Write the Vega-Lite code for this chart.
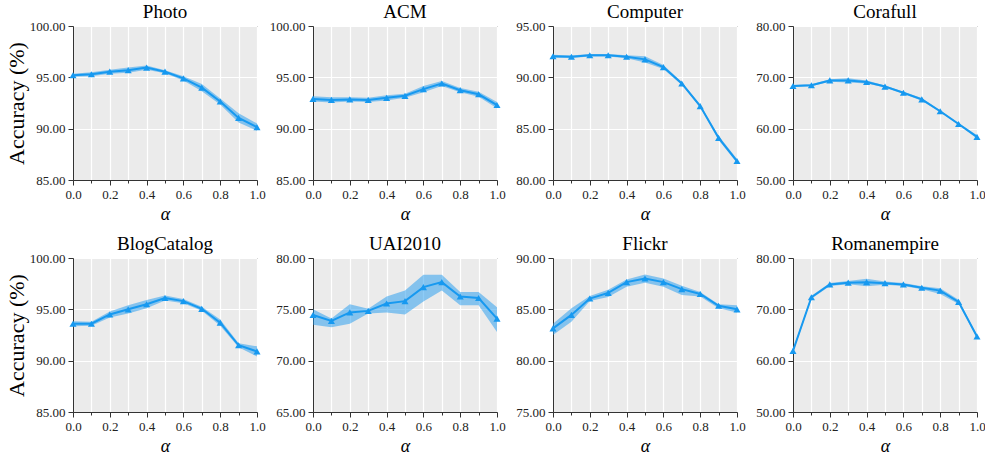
{
  "$schema": "https://vega.github.io/schema/vega-lite/v6.json",
  "background": "white",
  "padding": {"left": 4, "top": 2, "right": 5, "bottom": 0},
  "columns": 4,
  "spacing": {"row": 78, "column": 56},
  "bounds": "flush",
  "datasets": {
    "acc": [
      {"ds":"Photo","a":0.0,"m":95.2,"lo":95.05,"hi":95.35},
      {"ds":"Photo","a":0.1,"m":95.3,"lo":95.1,"hi":95.5},
      {"ds":"Photo","a":0.2,"m":95.55,"lo":95.35,"hi":95.75},
      {"ds":"Photo","a":0.3,"m":95.7,"lo":95.45,"hi":95.95},
      {"ds":"Photo","a":0.4,"m":95.95,"lo":95.75,"hi":96.15},
      {"ds":"Photo","a":0.5,"m":95.55,"lo":95.4,"hi":95.7},
      {"ds":"Photo","a":0.6,"m":94.9,"lo":94.7,"hi":95.1},
      {"ds":"Photo","a":0.7,"m":94.0,"lo":93.65,"hi":94.35},
      {"ds":"Photo","a":0.8,"m":92.65,"lo":92.35,"hi":92.95},
      {"ds":"Photo","a":0.9,"m":91.05,"lo":90.6,"hi":91.5},
      {"ds":"Photo","a":1.0,"m":90.15,"lo":89.8,"hi":90.5},
      {"ds":"ACM","a":0.0,"m":92.9,"lo":92.65,"hi":93.15},
      {"ds":"ACM","a":0.1,"m":92.8,"lo":92.55,"hi":93.05},
      {"ds":"ACM","a":0.2,"m":92.85,"lo":92.65,"hi":93.05},
      {"ds":"ACM","a":0.3,"m":92.8,"lo":92.6,"hi":93.0},
      {"ds":"ACM","a":0.4,"m":93.0,"lo":92.75,"hi":93.25},
      {"ds":"ACM","a":0.5,"m":93.2,"lo":93.0,"hi":93.4},
      {"ds":"ACM","a":0.6,"m":93.85,"lo":93.55,"hi":94.15},
      {"ds":"ACM","a":0.7,"m":94.4,"lo":94.15,"hi":94.65},
      {"ds":"ACM","a":0.8,"m":93.75,"lo":93.55,"hi":93.95},
      {"ds":"ACM","a":0.9,"m":93.35,"lo":93.1,"hi":93.6},
      {"ds":"ACM","a":1.0,"m":92.3,"lo":92.0,"hi":92.6},
      {"ds":"Computer","a":0.0,"m":92.05,"lo":91.9,"hi":92.2},
      {"ds":"Computer","a":0.1,"m":92.0,"lo":91.88,"hi":92.12},
      {"ds":"Computer","a":0.2,"m":92.15,"lo":92.03,"hi":92.27},
      {"ds":"Computer","a":0.3,"m":92.15,"lo":92.03,"hi":92.27},
      {"ds":"Computer","a":0.4,"m":92.0,"lo":91.85,"hi":92.15},
      {"ds":"Computer","a":0.5,"m":91.75,"lo":91.45,"hi":92.05},
      {"ds":"Computer","a":0.6,"m":91.0,"lo":90.8,"hi":91.2},
      {"ds":"Computer","a":0.7,"m":89.4,"lo":89.25,"hi":89.55},
      {"ds":"Computer","a":0.8,"m":87.2,"lo":87.05,"hi":87.35},
      {"ds":"Computer","a":0.9,"m":84.1,"lo":83.9,"hi":84.3},
      {"ds":"Computer","a":1.0,"m":81.85,"lo":81.65,"hi":82.05},
      {"ds":"Corafull","a":0.0,"m":68.3,"lo":68.1,"hi":68.5},
      {"ds":"Corafull","a":0.1,"m":68.45,"lo":68.25,"hi":68.65},
      {"ds":"Corafull","a":0.2,"m":69.4,"lo":69.15,"hi":69.65},
      {"ds":"Corafull","a":0.3,"m":69.4,"lo":69.0,"hi":69.8},
      {"ds":"Corafull","a":0.4,"m":69.1,"lo":68.8,"hi":69.4},
      {"ds":"Corafull","a":0.5,"m":68.2,"lo":68.0,"hi":68.4},
      {"ds":"Corafull","a":0.6,"m":67.0,"lo":66.8,"hi":67.2},
      {"ds":"Corafull","a":0.7,"m":65.7,"lo":65.45,"hi":65.95},
      {"ds":"Corafull","a":0.8,"m":63.4,"lo":63.2,"hi":63.6},
      {"ds":"Corafull","a":0.9,"m":60.9,"lo":60.7,"hi":61.1},
      {"ds":"Corafull","a":1.0,"m":58.4,"lo":58.1,"hi":58.7},
      {"ds":"BlogCatalog","a":0.0,"m":93.6,"lo":93.35,"hi":93.85},
      {"ds":"BlogCatalog","a":0.1,"m":93.6,"lo":93.4,"hi":93.8},
      {"ds":"BlogCatalog","a":0.2,"m":94.5,"lo":94.2,"hi":94.8},
      {"ds":"BlogCatalog","a":0.3,"m":95.0,"lo":94.6,"hi":95.4},
      {"ds":"BlogCatalog","a":0.4,"m":95.5,"lo":95.1,"hi":95.9},
      {"ds":"BlogCatalog","a":0.5,"m":96.1,"lo":95.85,"hi":96.35},
      {"ds":"BlogCatalog","a":0.6,"m":95.8,"lo":95.6,"hi":96.0},
      {"ds":"BlogCatalog","a":0.7,"m":95.05,"lo":94.85,"hi":95.25},
      {"ds":"BlogCatalog","a":0.8,"m":93.7,"lo":93.4,"hi":94.0},
      {"ds":"BlogCatalog","a":0.9,"m":91.5,"lo":91.3,"hi":91.7},
      {"ds":"BlogCatalog","a":1.0,"m":90.9,"lo":90.4,"hi":91.4},
      {"ds":"UAI2010","a":0.0,"m":74.45,"lo":73.5,"hi":75.0},
      {"ds":"UAI2010","a":0.1,"m":73.87,"lo":73.25,"hi":74.1},
      {"ds":"UAI2010","a":0.2,"m":74.7,"lo":73.6,"hi":75.5},
      {"ds":"UAI2010","a":0.3,"m":74.85,"lo":74.6,"hi":75.05},
      {"ds":"UAI2010","a":0.4,"m":75.57,"lo":74.7,"hi":76.25},
      {"ds":"UAI2010","a":0.5,"m":75.8,"lo":74.5,"hi":76.84},
      {"ds":"UAI2010","a":0.6,"m":77.16,"lo":75.76,"hi":78.37},
      {"ds":"UAI2010","a":0.7,"m":77.65,"lo":76.84,"hi":78.37},
      {"ds":"UAI2010","a":0.8,"m":76.25,"lo":75.4,"hi":76.7},
      {"ds":"UAI2010","a":0.9,"m":76.1,"lo":75.4,"hi":76.7},
      {"ds":"UAI2010","a":1.0,"m":74.1,"lo":72.8,"hi":75.2},
      {"ds":"Flickr","a":0.0,"m":83.15,"lo":82.5,"hi":83.6},
      {"ds":"Flickr","a":0.1,"m":84.46,"lo":83.8,"hi":85.1},
      {"ds":"Flickr","a":0.2,"m":86.05,"lo":85.8,"hi":86.3},
      {"ds":"Flickr","a":0.3,"m":86.6,"lo":86.2,"hi":86.9},
      {"ds":"Flickr","a":0.4,"m":87.65,"lo":87.2,"hi":87.9},
      {"ds":"Flickr","a":0.5,"m":88.0,"lo":87.6,"hi":88.4},
      {"ds":"Flickr","a":0.6,"m":87.65,"lo":87.2,"hi":88.0},
      {"ds":"Flickr","a":0.7,"m":86.97,"lo":86.4,"hi":87.3},
      {"ds":"Flickr","a":0.8,"m":86.5,"lo":86.25,"hi":86.7},
      {"ds":"Flickr","a":0.9,"m":85.35,"lo":85.1,"hi":85.5},
      {"ds":"Flickr","a":1.0,"m":85.0,"lo":84.7,"hi":85.4},
      {"ds":"Romanempire","a":0.0,"m":61.9,"lo":61.6,"hi":62.2},
      {"ds":"Romanempire","a":0.1,"m":72.35,"lo":72.05,"hi":72.65},
      {"ds":"Romanempire","a":0.2,"m":74.85,"lo":74.55,"hi":75.15},
      {"ds":"Romanempire","a":0.3,"m":75.2,"lo":74.9,"hi":75.5},
      {"ds":"Romanempire","a":0.4,"m":75.3,"lo":74.5,"hi":75.96},
      {"ds":"Romanempire","a":0.5,"m":75.1,"lo":74.8,"hi":75.4},
      {"ds":"Romanempire","a":0.6,"m":74.85,"lo":74.55,"hi":75.15},
      {"ds":"Romanempire","a":0.7,"m":74.2,"lo":73.9,"hi":74.5},
      {"ds":"Romanempire","a":0.8,"m":73.65,"lo":73.0,"hi":74.1},
      {"ds":"Romanempire","a":0.9,"m":71.45,"lo":71.05,"hi":71.85},
      {"ds":"Romanempire","a":1.0,"m":64.7,"lo":64.4,"hi":65.0}
    ]
  },
  "data": {"name": "acc"},
  "concat": [
    {
      "title": "Photo", "width": 184, "height": 154,
      "transform": [{"filter": "datum.ds === 'Photo'"}],
      "encoding": {"x": {"field": "a", "type": "quantitative", "scale": {"domain": [0, 1], "nice": false}, "axis": {"title": "α", "values": [0,0.1,0.2,0.3,0.4,0.5,0.6,0.7,0.8,0.9,1], "labelExpr": "round(datum.value*10) % 2 === 0 ? format(datum.value, '.1f') : ''", "tickSize": {"condition": {"test": "round(datum.value*10) % 2 === 0", "value": 5}, "value": 3}}}},
      "layer": [
        {"mark": {"type": "area", "color": "#1e9af0", "opacity": 0.5}, "encoding": {"y": {"field": "lo", "type": "quantitative", "title": "Accuracy (%)", "scale": {"domain": [85, 100], "nice": false, "zero": false}, "axis": {"values": [85,87.5,90,92.5,95,97.5,100], "labelExpr": "datum.value % 5 === 0 ? format(datum.value, '.2f') : ''", "tickSize": {"condition": {"test": "datum.value % 5 === 0", "value": 5}, "value": 3}}}, "y2": {"field": "hi"}}},
        {"mark": {"type": "line", "color": "#1799f0", "strokeWidth": 2}, "encoding": {"y": {"field": "m", "type": "quantitative", "title": "Accuracy (%)"}}},
        {"mark": {"type": "point", "shape": "triangle-up", "filled": true, "size": 50, "color": "#1799f0", "opacity": 1}, "encoding": {"y": {"field": "m", "type": "quantitative", "title": "Accuracy (%)"}}}
      ]
    },
    {
      "title": "ACM", "width": 184, "height": 154,
      "transform": [{"filter": "datum.ds === 'ACM'"}],
      "encoding": {"x": {"field": "a", "type": "quantitative", "scale": {"domain": [0, 1], "nice": false}, "axis": {"title": "α", "values": [0,0.1,0.2,0.3,0.4,0.5,0.6,0.7,0.8,0.9,1], "labelExpr": "round(datum.value*10) % 2 === 0 ? format(datum.value, '.1f') : ''", "tickSize": {"condition": {"test": "round(datum.value*10) % 2 === 0", "value": 5}, "value": 3}}}},
      "layer": [
        {"mark": {"type": "area", "color": "#1e9af0", "opacity": 0.5}, "encoding": {"y": {"field": "lo", "type": "quantitative", "title": null, "scale": {"domain": [85, 100], "nice": false, "zero": false}, "axis": {"values": [85,87.5,90,92.5,95,97.5,100], "labelExpr": "datum.value % 5 === 0 ? format(datum.value, '.2f') : ''", "tickSize": {"condition": {"test": "datum.value % 5 === 0", "value": 5}, "value": 3}}}, "y2": {"field": "hi"}}},
        {"mark": {"type": "line", "color": "#1799f0", "strokeWidth": 2}, "encoding": {"y": {"field": "m", "type": "quantitative", "title": null}}},
        {"mark": {"type": "point", "shape": "triangle-up", "filled": true, "size": 50, "color": "#1799f0", "opacity": 1}, "encoding": {"y": {"field": "m", "type": "quantitative", "title": null}}}
      ]
    },
    {
      "title": "Computer", "width": 184, "height": 154,
      "transform": [{"filter": "datum.ds === 'Computer'"}],
      "encoding": {"x": {"field": "a", "type": "quantitative", "scale": {"domain": [0, 1], "nice": false}, "axis": {"title": "α", "values": [0,0.1,0.2,0.3,0.4,0.5,0.6,0.7,0.8,0.9,1], "labelExpr": "round(datum.value*10) % 2 === 0 ? format(datum.value, '.1f') : ''", "tickSize": {"condition": {"test": "round(datum.value*10) % 2 === 0", "value": 5}, "value": 3}}}},
      "layer": [
        {"mark": {"type": "area", "color": "#1e9af0", "opacity": 0.5}, "encoding": {"y": {"field": "lo", "type": "quantitative", "title": null, "scale": {"domain": [80, 95], "nice": false, "zero": false}, "axis": {"values": [80,82.5,85,87.5,90,92.5,95], "labelExpr": "datum.value % 5 === 0 ? format(datum.value, '.2f') : ''", "tickSize": {"condition": {"test": "datum.value % 5 === 0", "value": 5}, "value": 3}}}, "y2": {"field": "hi"}}},
        {"mark": {"type": "line", "color": "#1799f0", "strokeWidth": 2}, "encoding": {"y": {"field": "m", "type": "quantitative", "title": null}}},
        {"mark": {"type": "point", "shape": "triangle-up", "filled": true, "size": 50, "color": "#1799f0", "opacity": 1}, "encoding": {"y": {"field": "m", "type": "quantitative", "title": null}}}
      ]
    },
    {
      "title": "Corafull", "width": 184, "height": 154,
      "transform": [{"filter": "datum.ds === 'Corafull'"}],
      "encoding": {"x": {"field": "a", "type": "quantitative", "scale": {"domain": [0, 1], "nice": false}, "axis": {"title": "α", "values": [0,0.1,0.2,0.3,0.4,0.5,0.6,0.7,0.8,0.9,1], "labelExpr": "round(datum.value*10) % 2 === 0 ? format(datum.value, '.1f') : ''", "tickSize": {"condition": {"test": "round(datum.value*10) % 2 === 0", "value": 5}, "value": 3}}}},
      "layer": [
        {"mark": {"type": "area", "color": "#1e9af0", "opacity": 0.5}, "encoding": {"y": {"field": "lo", "type": "quantitative", "title": null, "scale": {"domain": [50, 80], "nice": false, "zero": false}, "axis": {"values": [50,55,60,65,70,75,80], "labelExpr": "datum.value % 10 === 0 ? format(datum.value, '.2f') : ''", "tickSize": {"condition": {"test": "datum.value % 10 === 0", "value": 5}, "value": 3}}}, "y2": {"field": "hi"}}},
        {"mark": {"type": "line", "color": "#1799f0", "strokeWidth": 2}, "encoding": {"y": {"field": "m", "type": "quantitative", "title": null}}},
        {"mark": {"type": "point", "shape": "triangle-up", "filled": true, "size": 50, "color": "#1799f0", "opacity": 1}, "encoding": {"y": {"field": "m", "type": "quantitative", "title": null}}}
      ]
    },
    {
      "title": "BlogCatalog", "width": 184, "height": 154,
      "transform": [{"filter": "datum.ds === 'BlogCatalog'"}],
      "encoding": {"x": {"field": "a", "type": "quantitative", "scale": {"domain": [0, 1], "nice": false}, "axis": {"title": "α", "values": [0,0.1,0.2,0.3,0.4,0.5,0.6,0.7,0.8,0.9,1], "labelExpr": "round(datum.value*10) % 2 === 0 ? format(datum.value, '.1f') : ''", "tickSize": {"condition": {"test": "round(datum.value*10) % 2 === 0", "value": 5}, "value": 3}}}},
      "layer": [
        {"mark": {"type": "area", "color": "#1e9af0", "opacity": 0.5}, "encoding": {"y": {"field": "lo", "type": "quantitative", "title": "Accuracy (%)", "scale": {"domain": [85, 100], "nice": false, "zero": false}, "axis": {"values": [85,87.5,90,92.5,95,97.5,100], "labelExpr": "datum.value % 5 === 0 ? format(datum.value, '.2f') : ''", "tickSize": {"condition": {"test": "datum.value % 5 === 0", "value": 5}, "value": 3}}}, "y2": {"field": "hi"}}},
        {"mark": {"type": "line", "color": "#1799f0", "strokeWidth": 2}, "encoding": {"y": {"field": "m", "type": "quantitative", "title": "Accuracy (%)"}}},
        {"mark": {"type": "point", "shape": "triangle-up", "filled": true, "size": 50, "color": "#1799f0", "opacity": 1}, "encoding": {"y": {"field": "m", "type": "quantitative", "title": "Accuracy (%)"}}}
      ]
    },
    {
      "title": "UAI2010", "width": 184, "height": 154,
      "transform": [{"filter": "datum.ds === 'UAI2010'"}],
      "encoding": {"x": {"field": "a", "type": "quantitative", "scale": {"domain": [0, 1], "nice": false}, "axis": {"title": "α", "values": [0,0.1,0.2,0.3,0.4,0.5,0.6,0.7,0.8,0.9,1], "labelExpr": "round(datum.value*10) % 2 === 0 ? format(datum.value, '.1f') : ''", "tickSize": {"condition": {"test": "round(datum.value*10) % 2 === 0", "value": 5}, "value": 3}}}},
      "layer": [
        {"mark": {"type": "area", "color": "#1e9af0", "opacity": 0.5}, "encoding": {"y": {"field": "lo", "type": "quantitative", "title": null, "scale": {"domain": [65, 80], "nice": false, "zero": false}, "axis": {"values": [65,67.5,70,72.5,75,77.5,80], "labelExpr": "datum.value % 5 === 0 ? format(datum.value, '.2f') : ''", "tickSize": {"condition": {"test": "datum.value % 5 === 0", "value": 5}, "value": 3}}}, "y2": {"field": "hi"}}},
        {"mark": {"type": "line", "color": "#1799f0", "strokeWidth": 2}, "encoding": {"y": {"field": "m", "type": "quantitative", "title": null}}},
        {"mark": {"type": "point", "shape": "triangle-up", "filled": true, "size": 50, "color": "#1799f0", "opacity": 1}, "encoding": {"y": {"field": "m", "type": "quantitative", "title": null}}}
      ]
    },
    {
      "title": "Flickr", "width": 184, "height": 154,
      "transform": [{"filter": "datum.ds === 'Flickr'"}],
      "encoding": {"x": {"field": "a", "type": "quantitative", "scale": {"domain": [0, 1], "nice": false}, "axis": {"title": "α", "values": [0,0.1,0.2,0.3,0.4,0.5,0.6,0.7,0.8,0.9,1], "labelExpr": "round(datum.value*10) % 2 === 0 ? format(datum.value, '.1f') : ''", "tickSize": {"condition": {"test": "round(datum.value*10) % 2 === 0", "value": 5}, "value": 3}}}},
      "layer": [
        {"mark": {"type": "area", "color": "#1e9af0", "opacity": 0.5}, "encoding": {"y": {"field": "lo", "type": "quantitative", "title": null, "scale": {"domain": [75, 90], "nice": false, "zero": false}, "axis": {"values": [75,77.5,80,82.5,85,87.5,90], "labelExpr": "datum.value % 5 === 0 ? format(datum.value, '.2f') : ''", "tickSize": {"condition": {"test": "datum.value % 5 === 0", "value": 5}, "value": 3}}}, "y2": {"field": "hi"}}},
        {"mark": {"type": "line", "color": "#1799f0", "strokeWidth": 2}, "encoding": {"y": {"field": "m", "type": "quantitative", "title": null}}},
        {"mark": {"type": "point", "shape": "triangle-up", "filled": true, "size": 50, "color": "#1799f0", "opacity": 1}, "encoding": {"y": {"field": "m", "type": "quantitative", "title": null}}}
      ]
    },
    {
      "title": "Romanempire", "width": 184, "height": 154,
      "transform": [{"filter": "datum.ds === 'Romanempire'"}],
      "encoding": {"x": {"field": "a", "type": "quantitative", "scale": {"domain": [0, 1], "nice": false}, "axis": {"title": "α", "values": [0,0.1,0.2,0.3,0.4,0.5,0.6,0.7,0.8,0.9,1], "labelExpr": "round(datum.value*10) % 2 === 0 ? format(datum.value, '.1f') : ''", "tickSize": {"condition": {"test": "round(datum.value*10) % 2 === 0", "value": 5}, "value": 3}}}},
      "layer": [
        {"mark": {"type": "area", "color": "#1e9af0", "opacity": 0.5}, "encoding": {"y": {"field": "lo", "type": "quantitative", "title": null, "scale": {"domain": [50, 80], "nice": false, "zero": false}, "axis": {"values": [50,55,60,65,70,75,80], "labelExpr": "datum.value % 10 === 0 ? format(datum.value, '.2f') : ''", "tickSize": {"condition": {"test": "datum.value % 10 === 0", "value": 5}, "value": 3}}}, "y2": {"field": "hi"}}},
        {"mark": {"type": "line", "color": "#1799f0", "strokeWidth": 2}, "encoding": {"y": {"field": "m", "type": "quantitative", "title": null}}},
        {"mark": {"type": "point", "shape": "triangle-up", "filled": true, "size": 50, "color": "#1799f0", "opacity": 1}, "encoding": {"y": {"field": "m", "type": "quantitative", "title": null}}}
      ]
    }
  ],
  "config": {
    "font": "Liberation Serif",
    "view": {"fill": "#ebebeb", "stroke": "#333333", "strokeWidth": 1},
    "title": {"font": "Liberation Serif", "fontSize": 19, "fontWeight": "normal", "color": "#000000", "offset": -2},
    "axis": {
      "labelFont": "Liberation Serif", "labelFontSize": 13, "labelColor": "#222222", "labelPadding": 3,
      "labelFlush": false, "labelOverlap": false,
      "titleFont": "Liberation Serif", "titleFontWeight": "normal", "titleColor": "#000000",
      "domainColor": "#333333", "tickColor": "#333333",
      "grid": true, "gridColor": "#ffffff", "gridWidth": 1.2, "gridOpacity": 1
    },
    "axisX": {"labelPadding": 3, "titleFontSize": 18, "titleFontStyle": "italic", "titlePadding": 4},
    "axisY": {"titleFontSize": 22, "titlePadding": 1}
  }
}
